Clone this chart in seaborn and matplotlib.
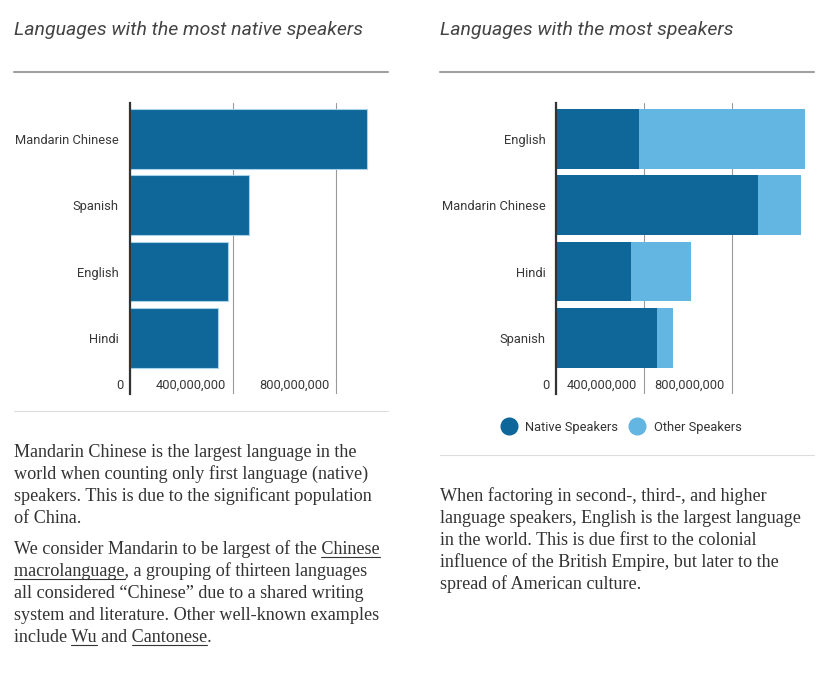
import matplotlib
matplotlib.use('Agg')
import matplotlib.pyplot as plt
from matplotlib.lines import Line2D
import seaborn as sns

# Dados
native_langs = ['Mandarin Chinese', 'Spanish', 'English', 'Hindi']
native_counts = [918e6, 460e6, 379e6, 341e6]

all_langs = ['English', 'Mandarin Chinese', 'Hindi', 'Spanish']
all_native = [379e6, 918e6, 341e6, 460e6]
all_other = [753e6, 199e6, 274e6, 74e6]

tick_vals = [0, 400e6, 800e6]
tick_labels = ['0', '400,000,000', '800,000,000']

title_left = 'Languages with the most native speakers'
title_right = 'Languages with the most speakers'

text_left = [
    [('Mandarin Chinese is the largest language in the', False)],
    [('world when counting only first language (native)', False)],
    [('speakers. This is due to the significant population', False)],
    [('of China.', False)],
    None,
    [('We consider Mandarin to be largest of the ', False), ('Chinese', True)],
    [('macrolanguage', True), (', a grouping of thirteen languages', False)],
    [('all considered \u201cChinese\u201d due to a shared writing', False)],
    [('system and literature. Other well-known examples', False)],
    [('include ', False), ('Wu', True), (' and ', False), ('Cantonese', True), ('.', False)],
]
text_right = [
    [('When factoring in second-, third-, and higher', False)],
    [('language speakers, English is the largest language', False)],
    [('in the world. This is due first to the colonial', False)],
    [('influence of the British Empire, but later to the', False)],
    [('spread of American culture.', False)],
]

DARK = '#0e6699'
LIGHT = '#63b6e2'
W, H = 831, 673

sns.set_style('white')
plt.rcParams['font.family'] = ['Roboto', 'DejaVu Sans']

fig = plt.figure(figsize=(W / 100, H / 100), dpi=100)


def fx(x):
    return x / W


def fy(y):
    return 1 - y / H


def style_axes(ax, xmax, ypad):
    ax.set_xlim(0, xmax)
    ax.set_ylim(3.845, -0.543)
    ax.set_xlabel('')
    ax.set_ylabel('')
    for s in ['top', 'right', 'bottom']:
        ax.spines[s].set_visible(False)
    ax.spines['left'].set_color('#333333')
    ax.spines['left'].set_linewidth(1.6)
    ax.spines['left'].set_zorder(5)
    ax.set_axisbelow(True)
    ax.grid(axis='x', color='#9a9a9a', linewidth=0.8)
    ax.grid(axis='y', visible=False)
    ax.set_xticks(tick_vals)
    ax.tick_params(axis='x', length=0, pad=-6, labelsize=9.3, labelcolor='#383838')
    ax.tick_params(axis='y', length=0, pad=ypad, labelsize=9.3, labelcolor='#383838')
    ax.set_xticklabels(tick_labels)
    offset = matplotlib.transforms.ScaledTranslation(-5 / 72, 0, fig.dpi_scale_trans)
    for lbl in ax.get_xticklabels():
        lbl.set_horizontalalignment('right')
        lbl.set_verticalalignment('center')
        lbl.set_transform(lbl.get_transform() + offset)


# Grafico esquerdo
ax1 = fig.add_axes([fx(130), fy(394), 258 / W, 291 / H])
sns.barplot(x=native_counts, y=native_langs, orient='h', color=DARK, saturation=1,
            width=0.9, edgecolor='#a6d2ea', linewidth=0.8, ax=ax1)
style_axes(ax1, 1.0e9, 8)

# Grafico direito (empilhado)
totals = [n + o for n, o in zip(all_native, all_other)]
ax2 = fig.add_axes([fx(556), fy(394), 258 / W, 291 / H])
sns.barplot(x=totals, y=all_langs, orient='h', color=LIGHT, saturation=1,
            width=0.9, linewidth=0, ax=ax2)
sns.barplot(x=all_native, y=all_langs, orient='h', color=DARK, saturation=1,
            width=0.9, linewidth=0, ax=ax2)
style_axes(ax2, 1.175e9, 7.5)

handles = [
    Line2D([], [], marker='o', ls='', color=DARK, markersize=12, label='Native Speakers'),
    Line2D([], [], marker='o', ls='', color=LIGHT, markersize=12, label='Other Speakers'),
]
fig.legend(handles=handles, ncol=2, loc='center', bbox_to_anchor=(fx(622), fy(427)),
           frameon=False, fontsize=9.3, labelcolor='#333333', handlelength=1.0,
           handletextpad=0.75, columnspacing=1.0)

# Titulos e linhas
fig.text(fx(14), fy(35), title_left, fontsize=14, style='italic', color='#444444', va='baseline')
fig.text(fx(440), fy(35), title_right, fontsize=14, style='italic', color='#444444', va='baseline')
for x0, x1, y, c, lw in [(14, 388, 72, '#a0a0a0', 1.5), (440, 814, 72, '#a0a0a0', 1.5),
                         (14, 388, 411, '#dddddd', 0.8), (440, 814, 455, '#dddddd', 0.8)]:
    fig.add_artist(Line2D([fx(x0), fx(x1)], [fy(y), fy(y)], color=c, linewidth=lw,
                          transform=fig.transFigure))

renderer = fig.canvas.get_renderer()
body = dict(fontsize=13.1, family=['Liberation Serif', 'DejaVu Serif'], color='#333333')


def width_of(s):
    if not s:
        return 0.0
    t = fig.text(0, 0, s, **body)
    w = t.get_window_extent(renderer).width
    t.remove()
    return w


def put_paragraphs(x, y, lines, step=22, gap=9):
    for segs in lines:
        if segs is None:
            y += gap
            continue
        full = ''.join(s for s, _ in segs)
        fig.text(fx(x), fy(y), full, va='baseline', **body)
        prefix = ''
        for s, under in segs:
            if under:
                end = width_of(prefix + s)
                start = end - width_of(s)
                fig.add_artist(Line2D([fx(x + start), fx(x + end)], [fy(y + 3), fy(y + 3)],
                                      color='#333333', linewidth=0.8,
                                      transform=fig.transFigure))
            prefix += s
        y += step


put_paragraphs(14, 457, text_left)
put_paragraphs(440, 501, text_right)

plt.savefig('out.png', dpi=100)
